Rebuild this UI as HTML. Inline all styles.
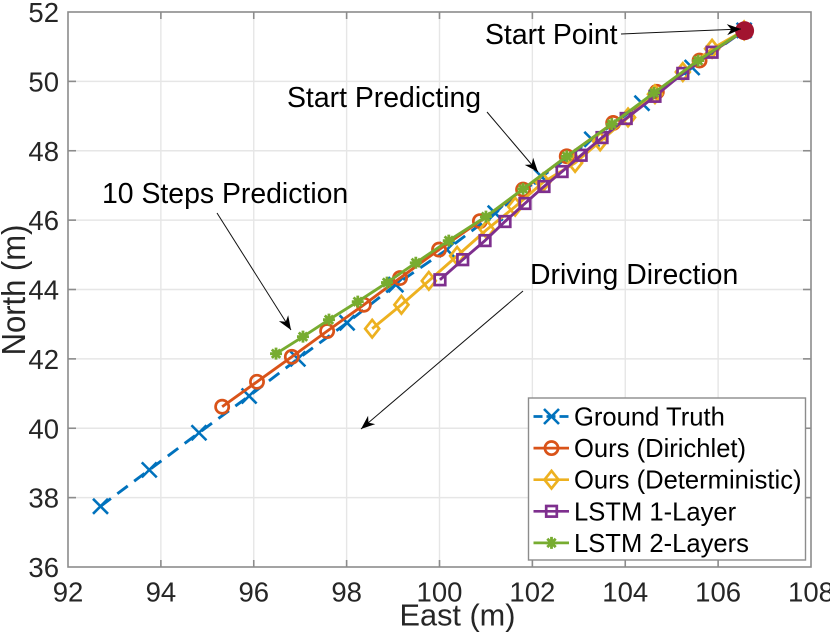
<!DOCTYPE html>
<html>
<head>
<meta charset="utf-8">
<title>Trajectory prediction chart</title>
<style>
html,body{margin:0;padding:0;background:#fff;}
svg{display:block;font-family:"Liberation Sans",sans-serif;}
</style>
</head>
<body>
<svg id="chart" xmlns="http://www.w3.org/2000/svg" width="830" height="635" viewBox="0 0 830 635"></svg>
<script>
const xTicks = [92, 94, 96, 98, 100, 102, 104, 106, 108];
const yTicks = [36, 38, 40, 42, 44, 46, 48, 50, 52];
const startPoint = [106.57, 51.46];
const groundTruthX = [92.7, 93.75, 94.82, 95.9, 96.95, 98.01, 99.06, 100.16, 101.2, 102.2, 103.28, 104.36, 105.44, 106.56];
const groundTruthY = [37.75, 38.8, 39.87, 40.93, 42.0, 43.04, 44.14, 45.15, 46.2, 47.25, 48.33, 49.37, 50.4, 51.47];
const dirichletX = [95.32, 96.07, 96.82, 97.58, 98.37, 99.15, 99.99, 100.87, 101.8, 102.74, 103.74, 104.68, 105.6, 106.56];
const dirichletY = [40.62, 41.34, 42.06, 42.8, 43.56, 44.33, 45.15, 45.97, 46.88, 47.84, 48.8, 49.7, 50.6, 51.47];
const deterministicX = [98.55, 99.18, 99.77, 100.38, 101.02, 101.63, 102.23, 102.92, 103.46, 104.06, 104.64, 105.24, 105.87, 106.56];
const deterministicY = [42.87, 43.56, 44.25, 44.97, 45.73, 46.39, 47.09, 47.65, 48.27, 48.96, 49.63, 50.27, 50.94, 51.47];
const lstm1X = [100.01, 100.5, 100.98, 101.41, 101.84, 102.25, 102.64, 103.05, 103.5, 104.02, 104.64, 105.24, 105.87, 106.56];
const lstm1Y = [44.28, 44.86, 45.41, 45.96, 46.48, 46.97, 47.4, 47.87, 48.38, 48.93, 49.57, 50.23, 50.84, 51.47];
const lstm2X = [96.48, 97.06, 97.62, 98.24, 98.87, 99.49, 100.2, 101.0, 101.8, 102.74, 103.71, 104.62, 105.57, 106.56];
const lstm2Y = [42.15, 42.64, 43.13, 43.65, 44.2, 44.77, 45.41, 46.1, 46.9, 47.84, 48.77, 49.67, 50.6, 51.47];

const svg = document.getElementById('chart');
const NS = 'http://www.w3.org/2000/svg';
const L = 68, R = 811, T = 12, B = 567;
const sx = v => L + (v - 92) / 16 * (R - L);
const sy = v => B - (v - 36) / 16 * (B - T);

function mk(parent, tag, attrs, txt) {
  const e = document.createElementNS(NS, tag);
  for (const k in attrs) e.setAttribute(k, attrs[k]);
  if (txt !== undefined) e.textContent = txt;
  parent.appendChild(e);
  return e;
}

function marker(g, kind, px, py, color) {
  if (kind === 'x') {
    const r = 7.5;
    mk(g, 'path', {d: `M${px-r} ${py-r}L${px+r} ${py+r}M${px-r} ${py+r}L${px+r} ${py-r}`, stroke: color, 'stroke-width': 2.6, fill: 'none'});
  } else if (kind === 'o') {
    mk(g, 'circle', {cx: px, cy: py, r: 6.6, stroke: color, 'stroke-width': 2.7, fill: 'none'});
  } else if (kind === 'd') {
    mk(g, 'path', {d: `M${px} ${py-8.8}L${px+7} ${py}L${px} ${py+8.8}L${px-7} ${py}Z`, stroke: color, 'stroke-width': 2.7, fill: 'none'});
  } else if (kind === 's') {
    mk(g, 'rect', {x: px-5.3, y: py-5.3, width: 10.6, height: 10.6, stroke: color, 'stroke-width': 2.7, fill: 'none'});
  } else if (kind === '*') {
    const r = 6;
    mk(g, 'path', {d: `M${px-r} ${py}L${px+r} ${py}M${px} ${py-r}L${px} ${py+r}M${px-r*.7} ${py-r*.7}L${px+r*.7} ${py+r*.7}M${px-r*.7} ${py+r*.7}L${px+r*.7} ${py-r*.7}`, stroke: color, 'stroke-width': 2.8, fill: 'none'});
  }
}

// grid
const grid = mk(svg, 'g', {stroke: '#e6e6e6', 'stroke-width': 1.4});


xTicks.slice(1, -1).forEach(v => mk(grid, 'line', {x1: sx(v), x2: sx(v), y1: T, y2: B}));
yTicks.slice(1, -1).forEach(v => mk(grid, 'line', {x1: L, x2: R, y1: sy(v), y2: sy(v)}));

// series
const seriesList = [
  {name: 'ground-truth', xs: groundTruthX, ys: groundTruthY, color: '#0072bd', kind: 'x', dash: '13 8'},
  {name: 'ours-dirichlet', xs: dirichletX, ys: dirichletY, color: '#d95319', kind: 'o'},
  {name: 'ours-deterministic', xs: deterministicX, ys: deterministicY, color: '#edb120', kind: 'd'},
  {name: 'lstm-1-layer', xs: lstm1X, ys: lstm1Y, color: '#7e2f8e', kind: 's'},
  {name: 'lstm-2-layers', xs: lstm2X, ys: lstm2Y, color: '#77ac30', kind: '*'}
];
seriesList.forEach(s => {
  const g = mk(svg, 'g', {});
  
  
  const pts = s.xs.map((x, i) => sx(x) + ',' + sy(s.ys[i])).join(' ');
  const attrs = {points: pts, fill: 'none', stroke: s.color, 'stroke-width': 2.9, 'stroke-linejoin': 'round'};
  if (s.dash) attrs['stroke-dasharray'] = s.dash;
  mk(g, 'polyline', attrs);
  s.xs.forEach((x, i) => marker(g, s.kind, sx(x), sy(s.ys[i]), s.color));
});

// start point
const sp = mk(svg, 'circle', {cx: sx(startPoint[0]), cy: sy(startPoint[1]), r: 9.5, fill: '#a2142f'});



// axes box
const ax = mk(svg, 'g', {stroke: '#8c8c8c', 'stroke-width': 1.6, fill: 'none'});


mk(ax, 'rect', {x: L, y: T, width: R - L, height: B - T});
xTicks.slice(1, -1).forEach(v => {
  mk(ax, 'line', {x1: sx(v), x2: sx(v), y1: B, y2: B - 7});
  mk(ax, 'line', {x1: sx(v), x2: sx(v), y1: T, y2: T + 7});
});
yTicks.slice(1, -1).forEach(v => {
  mk(ax, 'line', {x1: L, x2: L + 8, y1: sy(v), y2: sy(v)});
  mk(ax, 'line', {x1: R, x2: R - 8, y1: sy(v), y2: sy(v)});
});

// tick labels
xTicks.forEach(v => {
  const t = mk(svg, 'text', {x: sx(v), y: 601.5, 'text-anchor': 'middle', 'font-size': 27.5, fill: '#262626'}, v);
  
  
});
yTicks.forEach(v => {
  const t = mk(svg, 'text', {x: 59, y: sy(v) + 10, 'text-anchor': 'end', 'font-size': 27.5, fill: '#262626'}, v);
  
  
});

// axis titles
const xt = mk(svg, 'text', {x: 457.5, y: 625.5, 'text-anchor': 'middle', 'font-size': 30.7, fill: '#262626'}, 'East (m)');


const yt = mk(svg, 'text', {x: 0, y: 0, transform: 'translate(25,290) rotate(-90) scale(1,1.08)', 'text-anchor': 'middle', 'font-size': 31, fill: '#262626'}, 'North (m)');



// annotations
function arrow(x1, y1, x2, y2, name) {
  const g = mk(svg, 'g', {});
  
  
  mk(g, 'line', {x1: x1, y1: y1, x2: x2, y2: y2, stroke: '#111', 'stroke-width': 1});
  const a = Math.atan2(y2 - y1, x2 - x1), len = 14, w = 5.5, c = Math.cos(a), s = Math.sin(a);
  const bx = x2 - len * c, by = y2 - len * s, nx = x2 - len * .7 * c, ny = y2 - len * .7 * s;
  mk(g, 'path', {d: `M${x2} ${y2}L${bx - w*s} ${by + w*c}L${nx} ${ny}L${bx + w*s} ${by - w*c}Z`, fill: '#000'});
}
function note(x, y, txt, name) {
  const t = mk(svg, 'text', {x: x, y: y, 'font-size': 28.4, fill: '#000'}, txt);
  
  
}
note(485, 44, 'Start Point', 'start-point-label');
arrow(621, 34, 741, 29, 'start-point-arrow');
note(287, 107, 'Start Predicting', 'start-predicting-label');
arrow(487, 112, 538, 172, 'start-predicting-arrow');
note(102, 203, '10 Steps Prediction', 'steps-prediction-label');
arrow(217, 213, 291, 330, 'steps-prediction-arrow');
note(530, 284, 'Driving Direction', 'driving-direction-label');
arrow(523, 291, 361, 429, 'driving-direction-arrow');

// legend
const legendLabels = ['Ground Truth', 'Ours (Dirichlet)', 'Ours (Deterministic)', 'LSTM 1-Layer', 'LSTM 2-Layers'];
const lg = mk(svg, 'g', {});


mk(lg, 'rect', {x: 528.5, y: 398, width: 277, height: 162, fill: '#fff', stroke: '#8c8c8c', 'stroke-width': 1.4});
seriesList.forEach((s, i) => {
  const y = 416.5 + i * 31.6;
  const g = mk(lg, 'g', {});
  
  
  const attrs = {x1: 533.5, x2: 569, y1: y, y2: y, stroke: s.color, 'stroke-width': 2.7};
  if (s.dash) attrs['stroke-dasharray'] = '9 4';
  mk(g, 'line', attrs);
  marker(g, s.kind, 551.5, y, s.color);
  mk(g, 'text', {x: 574, y: y + 9, 'font-size': 25.6, fill: '#000'}, legendLabels[i]);
});
</script>
</body>
</html>
